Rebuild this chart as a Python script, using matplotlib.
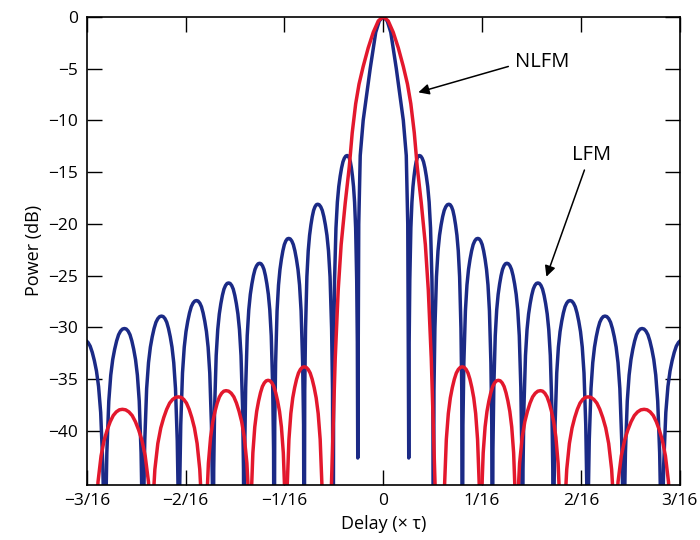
import numpy as np
import matplotlib.pyplot as plt

plt.rcParams['font.family'] = ['Open Sans', 'DejaVu Sans']

# delay in units of tau/16, power in dB; values read for positive delay,
# both curves are mirrored about zero delay
lfm_main_x = [0, 0.04, 0.076, 0.132, 0.203, 0.233, 0.248, 0.258]
lfm_main_db = [0, -0.4, -1.5, -5, -10, -13.4, -20, -42.6]
lfm_null_x = [0.258, 0.507, 0.800, 1.104, 1.408, 1.722, 2.067, 2.432, 2.817, 3.25]
lfm_null_db = [-42.6, -60, -60, -60, -60, -60, -60, -60, -60, -60]
lfm_peak_x = [0.365, 0.664, 0.957, 1.251, 1.565, 1.890, 2.244, 2.619, 3.03]
lfm_peak_db = [-13.4, -18.1, -21.4, -23.8, -25.7, -27.4, -28.9, -30.1, -31.2]

nlfm_main_x = [0, 0.05, 0.101, 0.152, 0.203, 0.245, 0.279, 0.314, 0.344, 0.385, 0.426, 0.456, 0.486, 0.527]
nlfm_main_db = [0, -0.4, -1.5, -3.0, -4.8, -6.5, -8.4, -11.2, -14.5, -18, -22, -26.4, -33, -46]
nlfm_null_lo = [0.598, 0.973, 1.327, 1.803, 2.310]
nlfm_null_hi = [0.993, 1.358, 1.814, 2.371, 2.948]
nlfm_peak_x = [0.800, 1.165, 1.591, 2.072, 2.640]
nlfm_peak_db = [-33.8, -35.1, -36.1, -36.7, -37.9]

# typical sidelobe outline: share of the way from null to peak, dB below peak
lobe_frac = [0.04, 0.1, 0.2, 0.3, 0.4, 0.5, 0.6, 0.7, 0.8, 0.9, 1.0]
lobe_drop = [-18, -12, -7, -4.5, -3.0, -2.0, -1.2, -0.6, -0.25, -0.05, 0]

xticks = [-3, -2, -1, 0, 1, 2, 3]
xticklabels = ['\u22123/16', '\u22122/16', '\u22121/16', '0', '1/16', '2/16', '3/16']
yticks = [0, -5, -10, -15, -20, -25, -30, -35, -40]


def lobe(x0, xp, x1, peak, d0, d1):
    fr = np.array(lobe_frac)
    dr = np.array(lobe_drop)
    xs = [x0] + list(x0 + fr * (xp - x0)) + list(x1 + fr[-2::-1] * (xp - x1)) + [x1]
    ys = [d0] + list(peak + dr) + list(peak + dr[-2::-1]) + [d1]
    return xs, ys


# LFM: one continuous curve
bx = list(lfm_main_x)
by = list(lfm_main_db)
for i in range(len(lfm_peak_x)):
    xs, ys = lobe(lfm_null_x[i], lfm_peak_x[i], lfm_null_x[i + 1],
                  lfm_peak_db[i], lfm_null_db[i], lfm_null_db[i + 1])
    bx += xs[1:]
    by += ys[1:]
bx = np.array(bx)
by = np.array(by)
lfm_x = np.concatenate([-bx[::-1], bx[1:]]) / 16
lfm_y = np.concatenate([by[::-1], by[1:]])

rx = np.array(nlfm_main_x)
ry = np.array(nlfm_main_db)
nlfm_x = np.concatenate([-rx[::-1], rx[1:]]) / 16
nlfm_y = np.concatenate([ry[::-1], ry[1:]])

blue = '#1b2a86'
red = '#e3182d'
lw = 2.5

fig = plt.figure(figsize=(7, 5.4), dpi=100)
ax = fig.add_axes([0.124, 0.102, 0.847, 0.867])

ax.plot(lfm_x, lfm_y, color=blue, lw=lw, solid_joinstyle='round')
ax.plot(nlfm_x, nlfm_y, color=red, lw=lw, solid_joinstyle='round')
for i in range(len(nlfm_peak_x)):
    xs, ys = lobe(nlfm_null_lo[i], nlfm_peak_x[i], nlfm_null_hi[i],
                  nlfm_peak_db[i], -60, -60)
    xs = np.array(xs) / 16
    ax.plot(xs, ys, color=red, lw=lw, solid_joinstyle='round')
    ax.plot(-xs, ys, color=red, lw=lw, solid_joinstyle='round')

ax.set_xlim(-3 / 16, 3 / 16)
ax.set_ylim(-45.2, 0)
ax.set_xticks([t / 16 for t in xticks])
ax.set_xticklabels(xticklabels)
ax.set_yticks(yticks)
ax.tick_params(direction='in', length=11, width=1, top=True, right=True,
               labelsize=12.5, pad=6)
for s in ax.spines.values():
    s.set_linewidth(1.2)

ax.set_xlabel('Delay (\u00d7 \u03c4)', fontsize=13)
ax.set_ylabel('Power (dB)', fontsize=13)

arrow = dict(arrowstyle='-|>', color='black', lw=1.1, mutation_scale=16,
             shrinkA=0, shrinkB=0)
ax.text(1.338 / 16, -4.4, 'NLFM', fontsize=14.5, ha='left', va='center')
ax.annotate('', xy=(0.355 / 16, -7.3), xytext=(1.266 / 16, -4.8), arrowprops=arrow)
ax.text(2.107 / 16, -13.3, 'LFM', fontsize=14.5, ha='center', va='center')
ax.annotate('', xy=(1.651 / 16, -25.1), xytext=(2.036 / 16, -14.8), arrowprops=arrow)

fig.savefig('out.png', dpi=100)
